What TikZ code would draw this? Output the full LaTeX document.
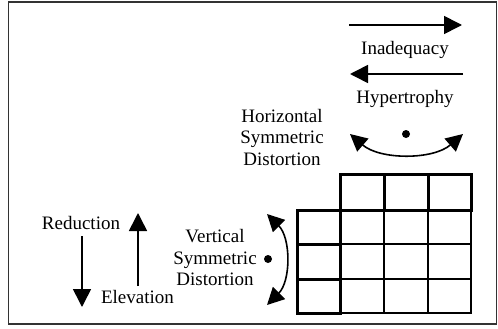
\documentclass[tikz,border=0pt]{standalone}
\usepackage{fontspec}
\setmainfont{Liberation Serif}
\usetikzlibrary{arrows.meta}
\begin{document}
\begin{tikzpicture}[x=1pt,y=-1pt,
  lbl/.style={font=\fontsize{19}{21.5}\selectfont, inner sep=0pt, align=center},
  arr/.style={line width=1.6pt, -{Triangle[length=18pt,width=18pt]}},
  carr/.style={line width=1.6pt, {Triangle[length=17pt,width=17pt]}-{Triangle[length=17pt,width=17pt]}},
  gridline/.style={line width=1.2pt},
  boldcell/.style={line width=3pt},
]
\useasboundingbox (0,0) rectangle (498,329);
\draw[line width=1.5pt, black!80] (8.5,2) rectangle (496.5,324);

% grid
\draw[gridline] (340,210) rectangle (471,313);
\draw[gridline] (384,210) -- (384,313) (428,210) -- (428,313);
\draw[gridline] (340,244) -- (471,244) (340,279) -- (471,279);
\draw[boldcell] (340,174) rectangle (384,210);
\draw[boldcell] (384,174) rectangle (428,210);
\draw[boldcell] (428,174) rectangle (471,210);
\draw[boldcell] (297,210) rectangle (340,244);
\draw[boldcell] (297,244) rectangle (340,279);
\draw[boldcell] (297,279) rectangle (340,313);

% labels
\node[lbl] (inad) at (405,50) {Inadequacy};
\node[lbl] (hyper) at (405,98.5) {Hypertrophy};
\node[lbl] (hsd) at (282,137.5) {Horizontal\\Symmetric\\Distortion};
\node[lbl] (vsd) at (215,257.5) {Vertical\\Symmetric\\Distortion};
\node[lbl] (red) at (81,222.5) {Reduction};
\node[lbl] (elev) at (137.5,296.5) {Elevation};

% straight arrows
\coordinate (i1) at (349,25); \coordinate (i2) at (462,25);
\coordinate (h1) at (463,74); \coordinate (h2) at (350,74);
\coordinate (r1) at (82,236); \coordinate (r2) at (82,307);
\coordinate (e1) at (138,286); \coordinate (e2) at (138,213);
\draw[arr] (i1) -- (i2);
\draw[arr] (h1) -- (h2);
\draw[arr] (r1) -- (r2);
\draw[arr] (e1) -- (e2);

% curved arrows
\coordinate (ha) at (350,134); \coordinate (hb) at (463,134);
\draw[carr] (ha) .. controls (380,160) and (433,160) .. (hb);
\coordinate (va) at (267,214); \coordinate (vb) at (267,305);
\draw[carr] (va) .. controls (291,238) and (291,281) .. (vb);

% dots
\fill (406,134) circle (4);
\fill (268,259) circle (4);
\end{tikzpicture}
\end{document}
